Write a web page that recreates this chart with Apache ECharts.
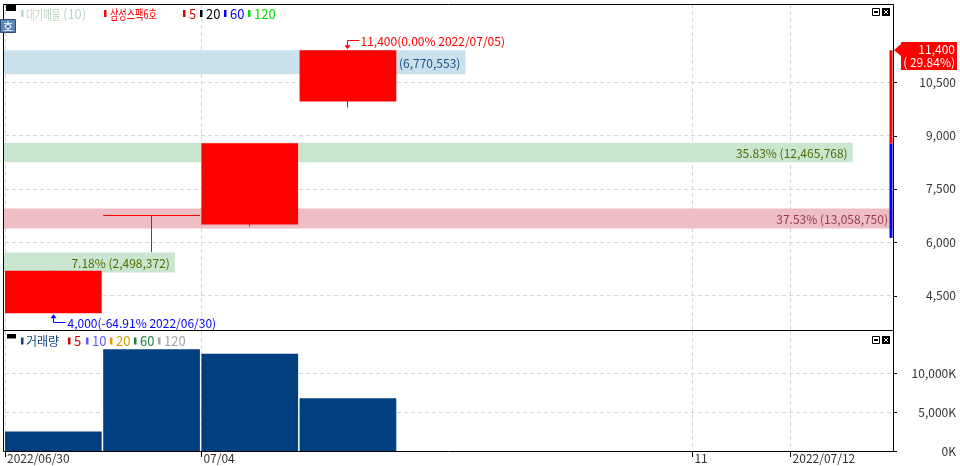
<!DOCTYPE html>
<html><head><meta charset="utf-8">
<script src="https://cdn.jsdelivr.net/npm/echarts@6/dist/echarts.min.js"></script>
<style>html,body{margin:0;padding:0;background:#fff}#c{width:960px;height:466px}</style>
</head><body><div id="c"></div>
<script>
// ---- data ----
const dates = ['2022/06/30','2022/07/01','2022/07/04','2022/07/05','2022/07/06','2022/07/07','2022/07/08','2022/07/11','2022/07/12'];
const dateTickIdx = [0, 2, 7, 8];
const dateTickLabels = ['2022/06/30', '07/04', '11', '2022/07/12'];
const opens  = [4000, 6760, 6500, 9960];
const closes = [5200, 6760, 8780, 11400];
const lows   = [4000, 5720, 6440, 9790];
const highs  = [5200, 6760, 8780, 11400];
const volumes = [2498372, 13058750, 12465768, 6770553];
const priceTicks = [4500, 6000, 7500, 9000, 10500];
const volTicks = [0, 5000000, 10000000];
const profileLow  = [5145, 6385, 8250, 10725];
const profileHigh = [5710, 6945, 8800, 11400];
const profileVol  = [2498372, 13058750, 12465768, 6770553];
const profileKind = ['green', 'pink', 'green', 'blue'];
const prevClose = 8780;
const rangeBars = [[6120, 8780, 'blue'], [8780, 11400, 'red']];

// ---- helpers ----
const FONT = '"Noto Sans CJK KR", "Noto Sans", sans-serif';
const fmt = v => Math.round(v).toLocaleString('en-US');
const SPAN = 9.043;
const lastClose = closes[closes.length - 1];
const totalVol = profileVol.reduce((a, b) => a + b, 0);
const maxProfile = Math.max(...profileVol);
const hiVal = Math.max(...highs), hiIdx = highs.indexOf(hiVal);
const loVal = Math.min(...lows), loIdx = lows.indexOf(loVal);
const bandFill = {green: '#c9e6d1', pink: '#eebec4', blue: '#c9e1ed'};
const bandText = {green: '#506a00', pink: '#983a4c', blue: '#1c4f86'};
const GRID_LINE = {show: true, lineStyle: {color: '#d6d6d6', type: [4, 3], width: 1}};

const chart = echarts.init(document.getElementById('c'), null, {renderer: 'canvas'});

const candleData = opens.map((o, i) => [i, o, closes[i], lows[i], highs[i]]);
const volData = volumes.map((v, i) => [i, v]);
const profileData = profileVol.map((v, i) => [v, profileLow[i], profileHigh[i], i]);

function legendItems(y, items) {
  const els = [];
  items.forEach(it => {
    els.push({type: 'rect', shape: {x: it.mx, y: y - 4, width: 2.5, height: 7}, style: {fill: it.c}, z: 50});
    let x = it.tx;
    it.parts.forEach(p => {
      els.push({type: 'text', x: x, y: y, scaleX: p.sx || 1, style: {text: p.t, fill: it.c, font: (p.fs || 12) + 'px ' + FONT, verticalAlign: 'middle'}, z: 50});
      x += p.w || 0;
    });
  });
  return els;
}

function icons(y) {
  return [
    {type: 'rect', shape: {x: 872.5, y: y + 0.5, width: 7, height: 7}, style: {fill: '#fff', stroke: '#000', lineWidth: 1}, z: 50},
    {type: 'rect', shape: {x: 874, y: y + 3, width: 4, height: 2}, style: {fill: '#000'}, z: 50},
    {type: 'rect', shape: {x: 882, y: y, width: 8, height: 8}, style: {fill: '#000'}, z: 50},
    {type: 'rect', shape: {x: 884, y: y + 2, width: 1, height: 1}, style: {fill: '#fff'}, z: 51},
    {type: 'rect', shape: {x: 887, y: y + 2, width: 1, height: 1}, style: {fill: '#fff'}, z: 51},
    {type: 'rect', shape: {x: 885, y: y + 3, width: 2, height: 2}, style: {fill: '#fff'}, z: 51},
    {type: 'rect', shape: {x: 884, y: y + 5, width: 1, height: 1}, style: {fill: '#fff'}, z: 51},
    {type: 'rect', shape: {x: 887, y: y + 5, width: 1, height: 1}, style: {fill: '#fff'}, z: 51}
  ];
}

const graphics = [
  {type: 'rect', shape: {x: 3.5, y: 4.5, width: 890, height: 326}, style: {fill: 'none', stroke: '#000', lineWidth: 1}, z: 40},
  {type: 'rect', shape: {x: 3.5, y: 330.5, width: 890, height: 121}, style: {fill: 'none', stroke: '#000', lineWidth: 1}, z: 40},
  {type: 'rect', shape: {x: 6, y: 4, width: 10, height: 7}, style: {fill: '#000'}, z: 50},
  {type: 'rect', shape: {x: 0.5, y: 19.5, width: 15, height: 13}, style: {fill: '#5d89b9', stroke: '#2d4d75', lineWidth: 1}, z: 50},
  {type: 'text', x: 8, y: 26.5, style: {text: '호', fill: '#fff', font: '11px ' + FONT, align: 'center', verticalAlign: 'middle'}, z: 51},
  {type: 'rect', shape: {x: 7, y: 334, width: 9, height: 4.5}, style: {fill: '#000'}, z: 50}
].concat(
  legendItems(14, [
    {mx: 21, tx: 26, c: '#b7d7c1', parts: [{t: '대기매물', sx: 0.72, fs: 13, w: 37}, {t: '(10)', fs: 13}]},
    {mx: 104, tx: 110, c: '#ff0000', parts: [{t: '삼성스팩6호', sx: 0.7, fs: 13}]},
    {mx: 183, tx: 189, c: '#e00000', parts: [{t: '5', fs: 13}]},
    {mx: 200, tx: 206, c: '#000000', parts: [{t: '20', fs: 13}]},
    {mx: 224, tx: 230, c: '#0000ff', parts: [{t: '60', fs: 13}]},
    {mx: 248, tx: 254, c: '#00dd00', parts: [{t: '120', fs: 13}]}
  ]),
  legendItems(341.5, [
    {mx: 21, tx: 26, c: '#0b3f80', parts: [{t: '거래량', fs: 12}]},
    {mx: 68, tx: 74, c: '#d40000', parts: [{t: '5', fs: 13}]},
    {mx: 86, tx: 92, c: '#5a5aff', parts: [{t: '10', fs: 13}]},
    {mx: 110, tx: 116, c: '#e09a00', parts: [{t: '20', fs: 13}]},
    {mx: 134, tx: 140, c: '#1d7f3f', parts: [{t: '60', fs: 13}]},
    {mx: 158, tx: 164, c: '#a3a3a3', parts: [{t: '120', fs: 13}]}
  ]),
  icons(8), icons(336)
);

// right-hand tick marks drawn at the axis side through the axis scale
function tickSeries(xAxisIndex, yAxisIndex, values) {
  return {
    type: 'custom', xAxisIndex: xAxisIndex, yAxisIndex: yAxisIndex, z: 45, clip: false, silent: true,
    data: values.map(v => [0, v]),
    renderItem: (params, api) => {
      const x = params.coordSys.x + params.coordSys.width;
      const y = Math.round(api.coord([0, api.value(1)])[1]) + 0.5;
      return {type: 'polyline', shape: {points: [[x, y], [x + 4, y]]}, style: {stroke: '#000', fill: null, lineWidth: 1}};
    }
  };
}

const option = {
  animation: false,
  backgroundColor: '#ffffff',
  textStyle: {fontFamily: FONT},
  grid: [
    {left: 5, right: 67, top: 4, height: 326},
    {left: 5, right: 67, top: 331, height: 120}
  ],
  xAxis: [
    {type: 'value', gridIndex: 0, min: 0, max: SPAN, axisLine: {show: false},
     axisTick: {show: false, customValues: dateTickIdx}, axisLabel: {show: false, customValues: dateTickIdx},
     splitLine: GRID_LINE},
    {type: 'value', gridIndex: 0, min: 0, max: maxProfile, show: false},
    {type: 'value', gridIndex: 1, min: 0, max: SPAN, position: 'bottom',
     axisLine: {show: false},
     axisTick: {show: true, inside: false, length: 6, customValues: dateTickIdx, lineStyle: {color: '#000'}},
     axisLabel: {show: true, customValues: dateTickIdx, align: 'left', margin: 1, color: '#333', fontSize: 12, fontFamily: FONT,
       padding: [0, 0, 0, 2],
       formatter: v => dateTickLabels[dateTickIdx.indexOf(Math.round(v))]},
     splitLine: GRID_LINE}
  ],
  yAxis: [
    {type: 'value', gridIndex: 0, position: 'right', min: 3530, max: 12700,
     axisLine: {show: false},
     axisTick: {show: false, customValues: priceTicks},
     axisLabel: {customValues: priceTicks, align: 'right', margin: 63, color: '#333', fontSize: 12, fontFamily: FONT, formatter: v => fmt(v)},
     splitLine: GRID_LINE},
    {type: 'value', gridIndex: 1, position: 'right', min: 0, max: 15400000,
     axisLine: {show: false},
     axisTick: {show: false, customValues: volTicks},
     axisLabel: {customValues: volTicks, align: 'right', margin: 63, color: '#333', fontSize: 12, fontFamily: FONT, formatter: v => fmt(v / 1000) + 'K'},
     splitLine: GRID_LINE}
  ],
  series: [
    { // volume profile bands
      type: 'custom', xAxisIndex: 1, yAxisIndex: 0, z: 2, clip: false, data: profileData,
      renderItem: (params, api) => {
        const v = api.value(0), lo = api.value(1), hi = api.value(2), k = profileKind[api.value(3)];
        const p0 = api.coord([0, hi]), p1 = api.coord([v, lo]);
        const pct = (v / totalVol * 100).toFixed(2) + '% (' + fmt(v) + ')';
        return {type: 'group', children: [
          {type: 'rect', shape: {x: p0[0] - 1, y: p0[1], width: p1[0] - p0[0] + 1, height: p1[1] - p0[1]}, style: {fill: bandFill[k]}},
          {type: 'text', style: {text: pct, x: p1[0] - 5, y: (p0[1] + p1[1]) / 2 + 1, align: 'right', verticalAlign: 'middle', fill: bandText[k], font: '12px ' + FONT}}
        ]};
      }
    },
    { // candles
      type: 'custom', xAxisIndex: 0, yAxisIndex: 0, z: 5, clip: false, data: candleData,
      renderItem: (params, api) => {
        const i = api.value(0), o = api.value(1), c = api.value(2), l = api.value(3), h = api.value(4);
        const xs = api.coord([i, o])[0], xe = api.coord([i + 1, o])[0] - 1.5;
        const xc = Math.floor((xs + xe) / 2) + 0.5;
        const yo = api.coord([i, o])[1], yc = api.coord([i, c])[1];
        const yl = api.coord([i, l])[1], yh = api.coord([i, h])[1];
        const col = c >= o ? '#ff0000' : '#0000ff';
        const top = Math.min(yo, yc), bot = Math.max(yo, yc);
        const ch = [{type: 'polyline', shape: {points: [[xc, yh], [xc, yl]]}, style: {stroke: col, fill: null, lineWidth: 1}}];
        if (bot - top < 1) {
          const yy = Math.round(top) + 0.5;
          ch.push({type: 'polyline', shape: {points: [[xs, yy], [xe, yy]]}, style: {stroke: col, fill: null, lineWidth: 1}});
        } else {
          ch.push({type: 'rect', shape: {x: xs, y: top, width: xe - xs, height: bot - top}, style: {fill: col}});
        }
        return {type: 'group', children: ch};
      }
    },
    { // volume bars
      type: 'custom', xAxisIndex: 2, yAxisIndex: 1, z: 5, clip: false, data: volData,
      renderItem: (params, api) => {
        const i = api.value(0), v = api.value(1);
        const p0 = api.coord([i, v]), p1 = api.coord([i + 1, 0]);
        return {type: 'rect', shape: {x: p0[0], y: p0[1], width: p1[0] - p0[0] - 1.5, height: p1[1] - p0[1]}, style: {fill: '#004080'}};
      }
    },
    { // price range bars near axis
      type: 'custom', xAxisIndex: 0, yAxisIndex: 0, z: 6, clip: false, data: rangeBars.map((r, i) => [r[0], r[1], i]),
      renderItem: (params, api) => {
        const lo = api.value(0), hi = api.value(1), k = rangeBars[api.value(2)][2];
        const x = params.coordSys.x + params.coordSys.width;
        const y0 = api.coord([0, hi])[1], y1 = api.coord([0, lo])[1];
        return {type: 'rect', shape: {x: x - 3.5, y: y0, width: 3, height: y1 - y0}, style: {fill: k === 'red' ? '#ff0000' : '#0000ff'}};
      }
    },
    tickSeries(0, 0, priceTicks),
    tickSeries(2, 1, volTicks),
    { // high / low annotations and current price tag
      type: 'custom', xAxisIndex: 0, yAxisIndex: 0, z: 8, clip: false,
      data: [[hiIdx, hiVal, loIdx, loVal, lastClose, prevClose]],
      renderItem: (params, api) => {
        const hi = api.value(1), hI = api.value(0), lo = api.value(3), lI = api.value(2);
        const last = api.value(4), prev = api.value(5);
        const hx = Math.floor((api.coord([hI, hi])[0] + api.coord([hI + 1, hi])[0] - 1.5) / 2) + 0.5;
        const hy = api.coord([hI, hi])[1];
        const lx = Math.floor((api.coord([lI, lo])[0] + api.coord([lI + 1, lo])[0] - 1.5) / 2) + 0.5;
        const ly = api.coord([lI, lo])[1];
        const hiTxt = fmt(hi) + '(' + ((hi / last - 1) * 100).toFixed(2) + '% ' + dates[hI] + ')';
        const loTxt = fmt(lo) + '(' + ((lo / last - 1) * 100).toFixed(2) + '% ' + dates[lI] + ')';
        const ax = params.coordSys.x + params.coordSys.width;
        const py = Math.round(api.coord([0, last])[1]);
        const chg = (last / prev - 1) * 100;
        const red = '#ff0000', blue = '#0000ff';
        const hyl = Math.round(hy) - 9.5;
        const lyl = Math.round(ly) + 9.5;
        return {type: 'group', children: [
          {type: 'polyline', shape: {points: [[hx + 12, hyl], [hx, hyl], [hx, hy - 4]]}, style: {stroke: red, fill: null, lineWidth: 1}},
          {type: 'polygon', shape: {points: [[hx - 3, hy - 5], [hx + 3, hy - 5], [hx, hy - 1]]}, style: {fill: red}},
          {type: 'text', style: {text: hiTxt, x: hx + 13, y: hyl + 0.5, verticalAlign: 'middle', fill: red, font: '12px ' + FONT}},
          {type: 'polyline', shape: {points: [[lx + 12, lyl], [lx, lyl], [lx, ly + 5]]}, style: {stroke: blue, fill: null, lineWidth: 1}},
          {type: 'polygon', shape: {points: [[lx - 3, ly + 5], [lx + 3, ly + 5], [lx, ly + 1]]}, style: {fill: blue}},
          {type: 'text', style: {text: loTxt, x: lx + 14, y: lyl + 0.5, verticalAlign: 'middle', fill: blue, font: '12px ' + FONT}},
          {type: 'polygon', shape: {points: [[ax + 1, py], [ax + 8, py - 6], [ax + 8, py + 6]]}, style: {fill: red}},
          {type: 'rect', shape: {x: ax + 8, y: py - 8, width: 56, height: 28}, style: {fill: red}},
          {type: 'text', style: {text: fmt(last), x: ax + 62, y: py - 1, align: 'right', verticalAlign: 'middle', fill: '#fff', font: '12px ' + FONT}},
          {type: 'text', style: {text: '( ' + chg.toFixed(2) + '%)', x: ax + 62, y: py + 12, align: 'right', verticalAlign: 'middle', fill: '#fff', font: '12px ' + FONT}}
        ]};
      }
    }
  ],
  graphic: graphics
};
chart.setOption(option);
</script>
</body></html>
